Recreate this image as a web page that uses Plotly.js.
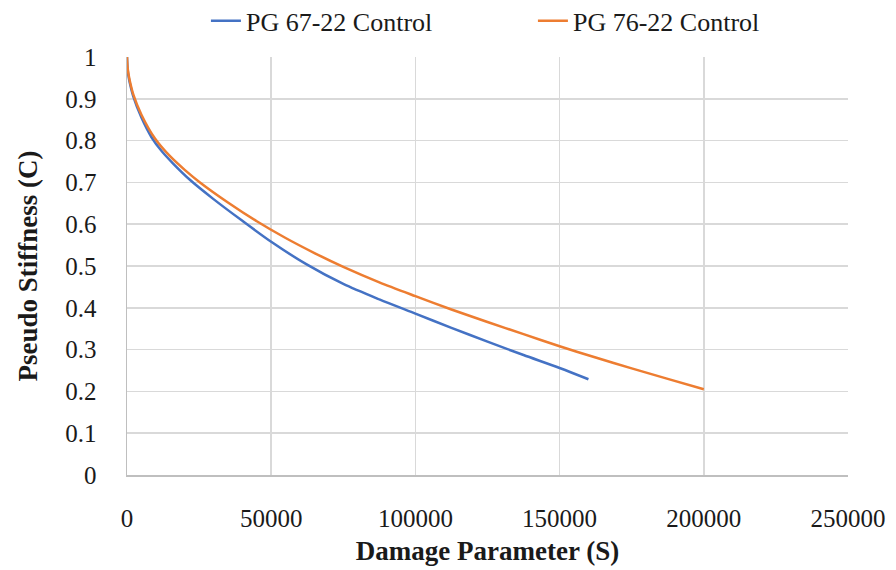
<!DOCTYPE html>
<html>
<head>
<meta charset="utf-8">
<script src="https://cdn.plot.ly/plotly-3.0.1.min.js"></script>
<style>
html,body{margin:0;padding:0;background:#fff;font-family:"Liberation Serif";}
#chart{width:896px;height:570px;}
#chart text, #chart tspan{font-family:"Liberation Serif", "Times New Roman", serif !important;}
</style>
</head>
<body>
<div id="chart"></div>
<script>
const seriesNames = ["PG 67-22 Control", "PG 76-22 Control"];
const blueS = [0, 200, 500, 1000, 2200, 5000, 8500, 12000, 16000, 22000, 30000, 40000, 50000, 62000, 75000, 87500, 100000, 112500, 125000, 137500, 150000, 160000];
const blueC = [1.0, 0.972, 0.955, 0.937, 0.905, 0.855, 0.808, 0.775, 0.745, 0.705, 0.66, 0.608, 0.558, 0.505, 0.457, 0.42, 0.386, 0.352, 0.319, 0.287, 0.256, 0.229];
const orangeS = [0, 200, 500, 1000, 2200, 5000, 9700, 15000, 20000, 25300, 35000, 45000, 55000, 65000, 75000, 87500, 100000, 112500, 125000, 137500, 150000, 162500, 175000, 187500, 200000];
const orangeC = [1.0, 0.975, 0.96, 0.942, 0.91, 0.862, 0.805, 0.762, 0.73, 0.70, 0.652, 0.607, 0.567, 0.531, 0.498, 0.461, 0.428, 0.396, 0.366, 0.337, 0.308, 0.281, 0.255, 0.23, 0.205];
const xTicks = [0, 50000, 100000, 150000, 200000, 250000];
const yTicks = [0, 0.1, 0.2, 0.3, 0.4, 0.5, 0.6, 0.7, 0.8, 0.9, 1];

const fam = "Liberation Serif";
const traces = [
  {x: blueS, y: blueC, name: seriesNames[0], mode: "lines", line: {color: "#4472C4", width: 2.5, shape: "spline", smoothing: 0.8}},
  {x: orangeS, y: orangeC, name: seriesNames[1], mode: "lines", line: {color: "#ED7D31", width: 2.5, shape: "spline", smoothing: 0.8}}
];
const layout = {
  width: 896, height: 570,
  margin: {l: 127, r: 48, t: 57, b: 95, autoexpand: false},
  paper_bgcolor: "#fff", plot_bgcolor: "#fff",
  font: {family: fam, size: 25, color: "#1a1a1a"},
  showlegend: true,
  legend: {orientation: "h", x: 0.563, xanchor: "center", y: 1.03, yanchor: "bottom",
           font: {family: fam, size: 26, color: "#1a1a1a"}, entrywidth: 282, itemwidth: 30},
  xaxis: {range: [0, 250000], tickvals: xTicks, ticktext: xTicks.map(String),
          showgrid: true, gridcolor: "#d9d9d9", gridwidth: 1.5,
          showline: true, linecolor: "#bfbfbf", linewidth: 1.5, zeroline: false,
          ticks: "", ticklabelstandoff: 20, tickfont: {family: fam, size: 25, color: "#1a1a1a"},
          title: {text: "<b>Damage Parameter (S)</b>", font: {family: fam, size: 27, color: "#1a1a1a"}, standoff: 10}},
  yaxis: {range: [0, 1], tickvals: yTicks, ticktext: yTicks.map(String),
          showgrid: true, gridcolor: "#d9d9d9", gridwidth: 1.5,
          showline: true, linecolor: "#bfbfbf", linewidth: 1.5, zeroline: false,
          ticks: "", ticklabelstandoff: 24, tickfont: {family: fam, size: 25, color: "#1a1a1a"},
          title: {text: "<b>Pseudo Stiffness (C)</b>", font: {family: fam, size: 27, color: "#1a1a1a"}, standoff: 20}}
};
Plotly.newPlot("chart", traces, layout, {displayModeBar: false, staticPlot: true});
</script>
</body>
</html>
